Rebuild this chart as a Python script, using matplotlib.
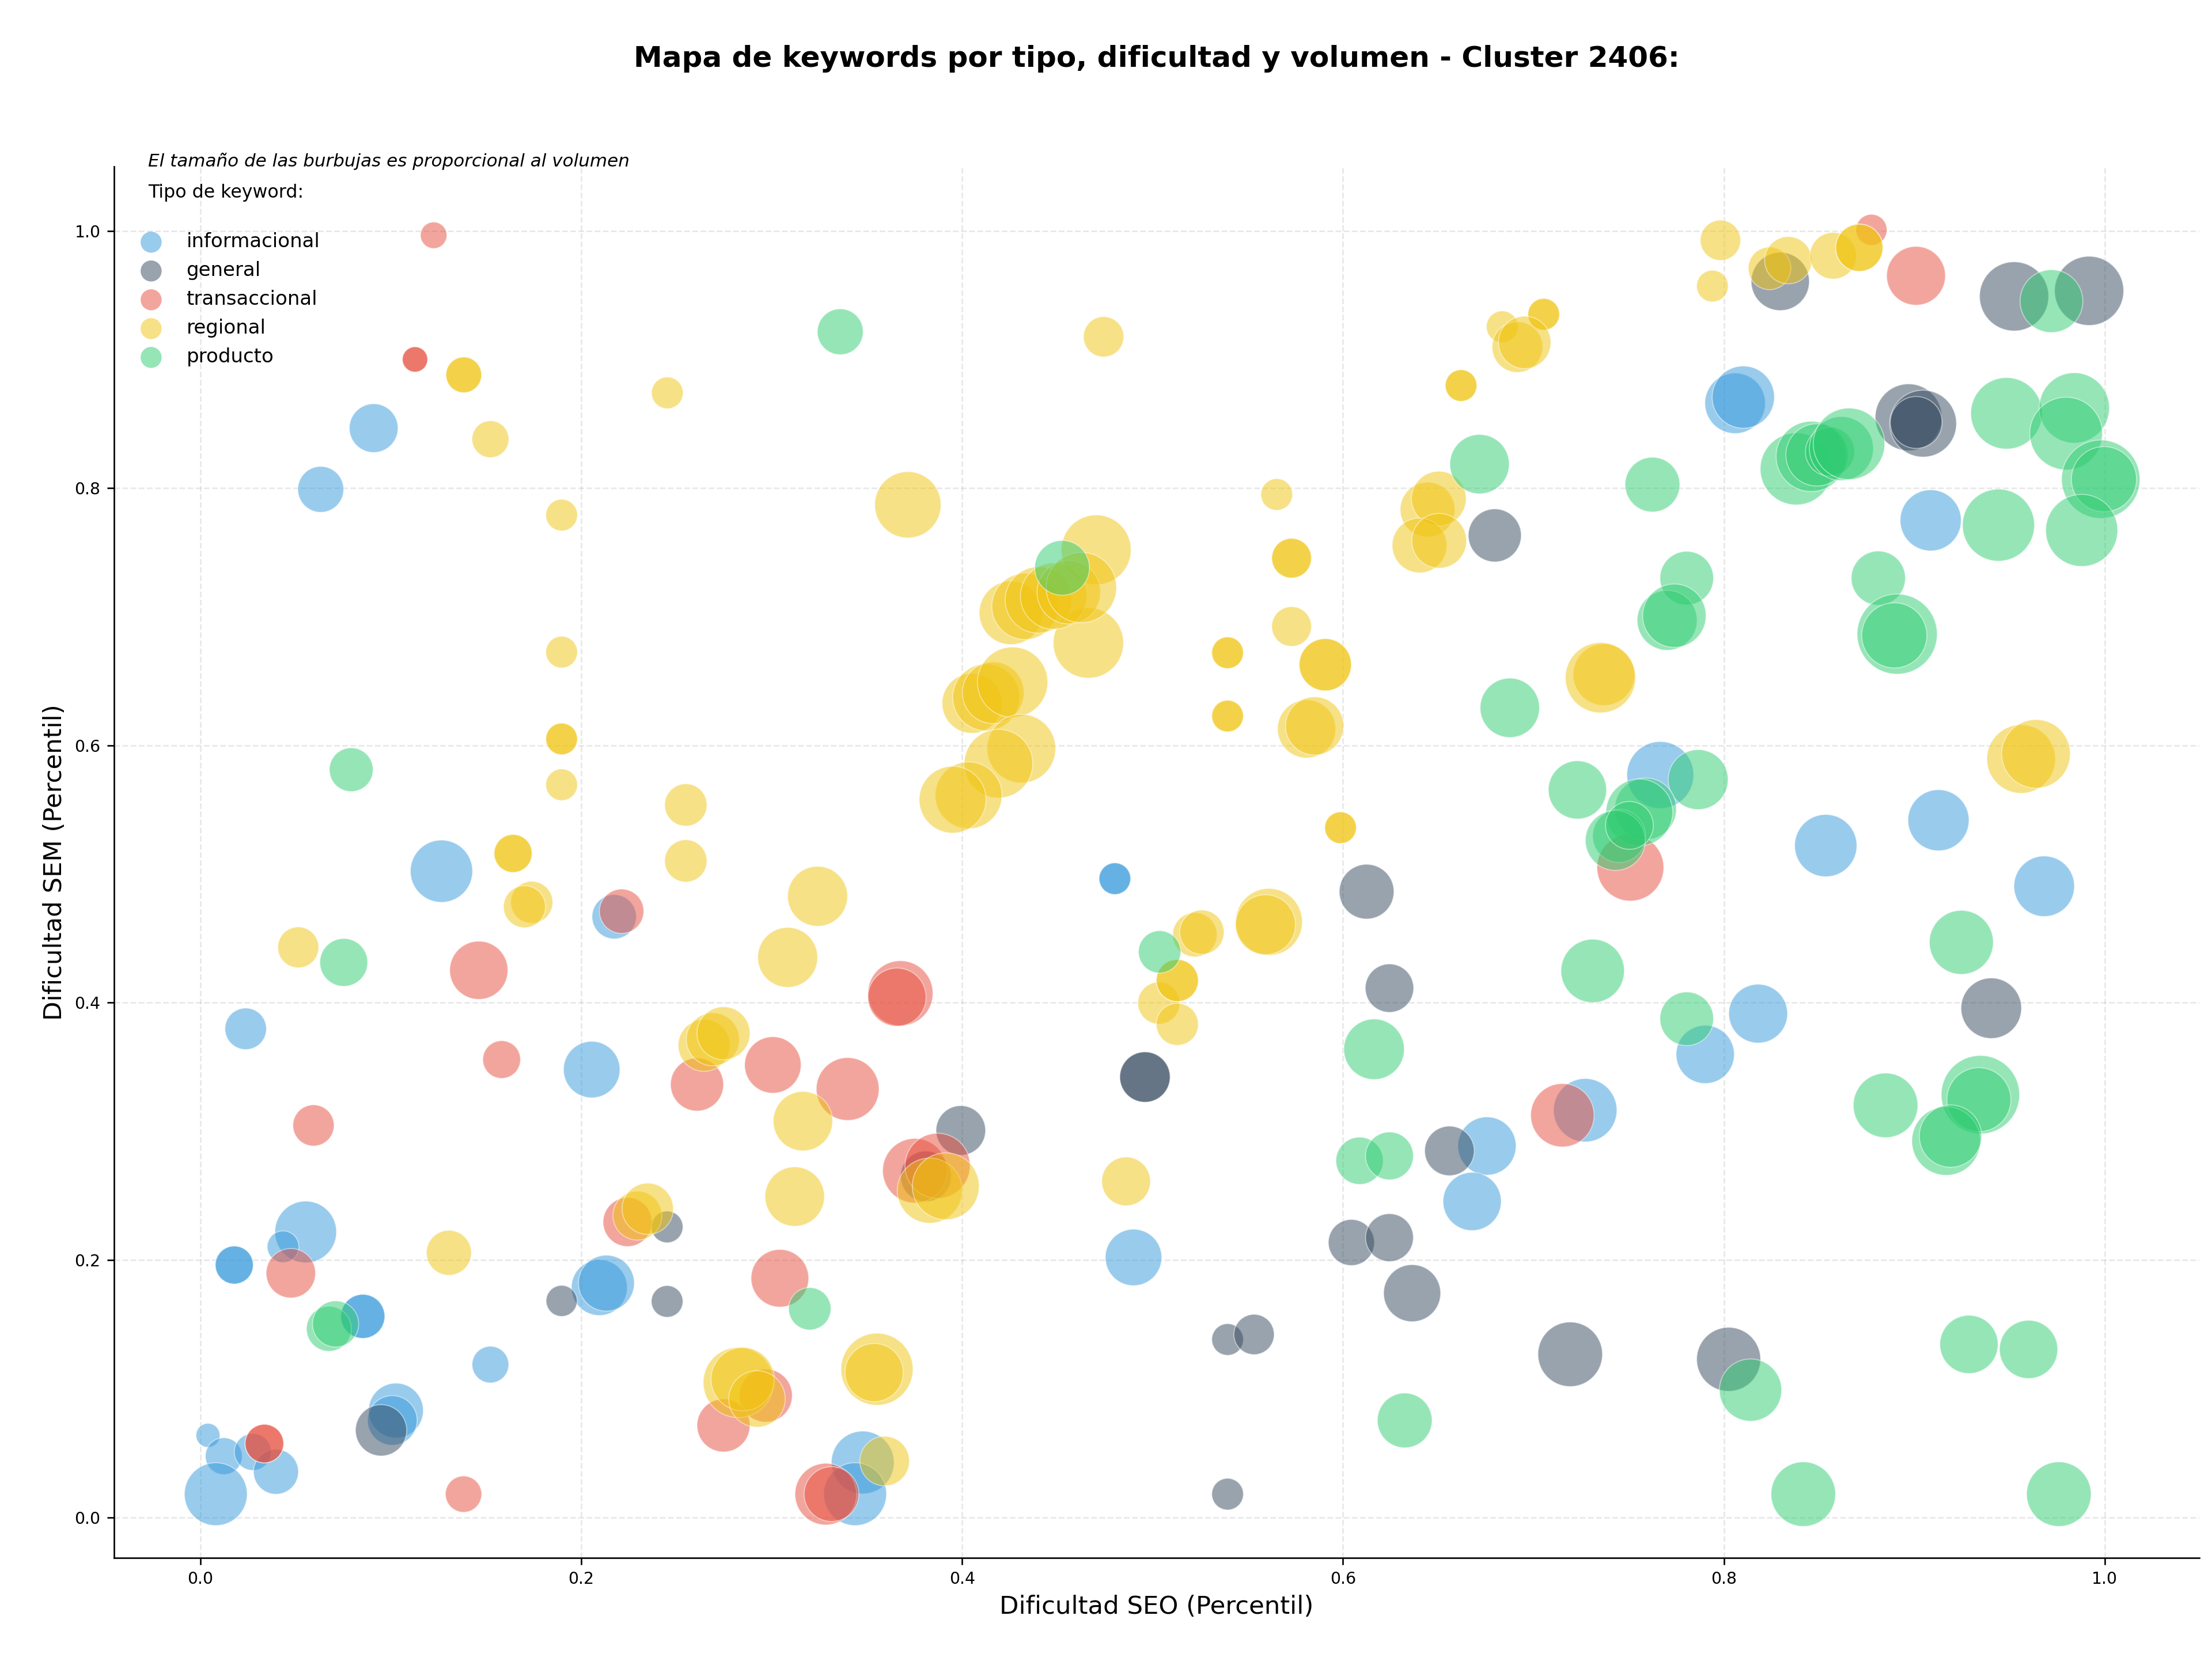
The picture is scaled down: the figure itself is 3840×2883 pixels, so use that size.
import matplotlib.pyplot as plt

# Datos por tipo de keyword: dificultad SEO (x), dificultad SEM (y), volumen
info_x = [0.091, 0.0632, 0.8059, 0.8102, 0.1266, 0.2173, 0.0238, 0.2055, 0.0553, 0.0434,
          0.0178, 0.0178, 0.0853, 0.0853, 0.1523, 0.2095, 0.2132, 0.1027, 0.1008, 0.004,
          0.0123, 0.0275, 0.0397, 0.0081, 0.4802, 0.4802, 0.49, 0.3478, 0.3438, 0.7666,
          0.7902, 0.9086, 0.8535, 0.9127, 0.9682, 0.818, 0.7272, 0.6756, 0.6678]
info_y = [0.8466, 0.799, 0.8659, 0.8707, 0.5022, 0.4668, 0.3797, 0.348, 0.2218, 0.2103,
          0.1961, 0.1961, 0.1562, 0.1562, 0.1187, 0.1786, 0.182, 0.083, 0.0753, 0.0637,
          0.0475, 0.0508, 0.0354, 0.018, 0.4964, 0.4964, 0.202, 0.0426, 0.018, 0.577,
          0.3598, 0.7749, 0.5221, 0.5418, 0.4905, 0.3915, 0.3164, 0.2886, 0.2455]
info_vol = [643, 570, 992, 1050, 1050, 534, 467, 864, 1030, 272,
            392, 392, 527, 527, 365, 847, 847, 812, 666, 156,
            369, 369, 548, 1069, 272, 272, 864, 1069, 1069, 1211,
            918, 1011, 1050, 1011, 992, 936, 1089, 918, 918]

gen_x = [0.8296, 0.9524, 0.9918, 0.897, 0.9046, 0.901, 0.6797, 0.1897, 0.0949, 0.2451,
         0.2451, 0.3993, 0.381, 0.496, 0.496, 0.6124, 0.6244, 0.9404, 0.6559, 0.6044,
         0.6244, 0.6363, 0.5394, 0.5533, 0.7193, 0.8025, 0.5394]
gen_y = [0.9606, 0.949, 0.9533, 0.855, 0.8501, 0.851, 0.7632, 0.1682, 0.0676, 0.2257,
         0.1678, 0.3007, 0.265, 0.3422, 0.3422, 0.4863, 0.4113, 0.3957, 0.2848, 0.2136,
         0.2174, 0.1742, 0.1382, 0.1421, 0.1267, 0.1228, 0.018]
gen_vol = [918, 1296, 1296, 1211, 1211, 729, 762, 262, 713, 272,
           272, 666, 697, 689, 689, 812, 635, 992, 666, 576,
           620, 882, 272, 441, 1129, 1109, 272]

trans_x = [0.1225, 0.1127, 0.1127, 0.2212, 0.1462, 0.1582, 0.0594, 0.0475, 0.0336, 0.0336,
           0.1382, 0.2608, 0.3006, 0.3399, 0.3676, 0.3658, 0.2243, 0.3043, 0.2969, 0.2747,
           0.3284, 0.3314, 0.3752, 0.3871, 0.7509, 0.7152, 0.8775, 0.9009]
trans_y = [0.9965, 0.900, 0.900, 0.4711, 0.4252, 0.3558, 0.3046, 0.1897, 0.0573, 0.0573,
           0.018, 0.3364, 0.3516, 0.3329, 0.4073, 0.4043, 0.2295, 0.1858, 0.0946, 0.0714,
           0.018, 0.018, 0.2694, 0.2732, 0.505, 0.3125, 1.0007, 0.965]
trans_vol = [190, 174, 174, 534, 918, 386, 461, 661, 404, 404,
             357, 762, 864, 1069, 1149, 918, 650, 900, 762, 762,
             1030, 812, 1129, 1149, 1211, 1089, 262, 936]

reg_x = [0.1383, 0.1383, 0.1523, 0.1897, 0.2452, 0.4743, 0.3715, 0.4704, 0.4663, 0.4256,
         0.4330, 0.4400, 0.4480, 0.4560, 0.4626, 0.4052, 0.4126, 0.4163, 0.4265, 0.4311,
         0.4191, 0.4034, 0.395, 0.1897, 0.1897, 0.1897, 0.1897, 0.1642, 0.1642, 0.174,
         0.1702, 0.0514, 0.1305, 0.2549, 0.2549, 0.3241, 0.3084, 0.2645, 0.2691, 0.2747,
         0.3164, 0.3121, 0.2295, 0.2349, 0.2825, 0.2848, 0.2923, 0.3553, 0.3538, 0.3593,
         0.383, 0.3914, 0.4861, 0.5394, 0.5394, 0.5394, 0.5394, 0.5652, 0.573, 0.573,
         0.573, 0.5907, 0.5907, 0.5809, 0.5851, 0.5987, 0.5987, 0.5611, 0.5593, 0.5222,
         0.5259, 0.5033, 0.513, 0.513, 0.513, 0.737, 0.7352, 0.6444, 0.6503, 0.6402,
         0.6505, 0.6836, 0.7054, 0.7054, 0.6916, 0.6954, 0.662, 0.662, 0.7982, 0.794,
         0.824, 0.8338, 0.8574, 0.8711, 0.8711, 0.9561, 0.9639]
reg_y = [0.888, 0.888, 0.838, 0.779, 0.874, 0.9176, 0.787, 0.752, 0.6796, 0.703,
         0.708, 0.713, 0.716, 0.719, 0.7227, 0.6327, 0.6373, 0.6409, 0.6491, 0.5975,
         0.5858, 0.5612, 0.5578, 0.6725, 0.605, 0.605, 0.5694, 0.516, 0.516, 0.478,
         0.4746, 0.443, 0.2056, 0.5537, 0.5102, 0.4827, 0.4352, 0.3668, 0.3715, 0.3762,
         0.3079, 0.2493, 0.2345, 0.2398, 0.1048, 0.1074, 0.092, 0.1151, 0.1125, 0.0437,
         0.2539, 0.2573, 0.2611, 0.672, 0.672, 0.6228, 0.6228, 0.795, 0.7455, 0.7455,
         0.6924, 0.6627, 0.6627, 0.6128, 0.6151, 0.536, 0.536, 0.4628, 0.4606, 0.4528,
         0.4548, 0.3997, 0.4172, 0.4172, 0.3832, 0.655, 0.6526, 0.7833, 0.7918, 0.7554,
         0.759, 0.9254, 0.9351, 0.9351, 0.9096, 0.9132, 0.8797, 0.8797, 0.9926, 0.957,
         0.9708, 0.9771, 0.9806, 0.9868, 0.9868, 0.5894, 0.5934]
reg_vol = [346, 346, 369, 272, 272, 441, 1190, 1318, 1340, 1089,
           1190, 1190, 1190, 1089, 1340, 973, 1211, 1030, 1340, 1275,
           1275, 1211, 1211, 272, 272, 272, 272, 392, 392, 480,
           480, 454, 548, 486, 486, 973, 973, 729, 762, 762,
           955, 955, 650, 713, 1340, 1089, 864, 1406, 918, 666,
           1149, 1211, 643, 272, 272, 272, 272, 272, 428, 428,
           428, 739, 739, 918, 918, 272, 272, 1211, 973, 534,
           534, 480, 480, 480, 480, 1030, 1340, 812, 812, 812,
           812, 272, 272, 272, 697, 745, 272, 272, 441, 272,
           493, 605, 590, 605, 605, 1275, 1275]

prod_x = [0.336, 0.4525, 0.0792, 0.0753, 0.0675, 0.071, 0.32, 0.5037, 0.6163, 0.6876,
          0.7231, 0.7865, 0.7589, 0.7556, 0.745, 0.743, 0.7311, 0.7805, 0.7805, 0.7702,
          0.774, 0.6717, 0.7625, 0.972, 0.838, 0.8459, 0.8489, 0.8557, 0.8617, 0.8657,
          0.9484, 0.984, 0.9797, 0.9979, 0.9996, 0.9442, 0.9879, 0.8811, 0.891, 0.8895,
          0.9247, 0.8849, 0.9347, 0.9339, 0.9167, 0.919, 0.9287, 0.96, 0.814, 0.8417,
          0.9759, 0.6087, 0.6244, 0.6324, 0.7504]
prod_y = [0.9215, 0.738, 0.5811, 0.4313, 0.1465, 0.1503, 0.1621, 0.4395, 0.3638, 0.6292,
          0.5654, 0.5734, 0.5507, 0.5479, 0.5296, 0.5261, 0.4247, 0.3875, 0.73, 0.6972,
          0.7008, 0.8186, 0.8027, 0.9453, 0.8149, 0.8246, 0.8258, 0.8283, 0.8307, 0.8344,
          0.8581, 0.8623, 0.8424, 0.8069, 0.8069, 0.7712, 0.7671, 0.73, 0.6865, 0.6855,
          0.4469, 0.3202, 0.3285, 0.3246, 0.2925, 0.2963, 0.1344, 0.1305, 0.0989, 0.018,
          0.018, 0.2771, 0.2809, 0.0753, 0.5378]
prod_vol = [570, 812, 520, 620, 548, 576, 486, 486, 992, 955,
            918, 973, 1030, 1211, 762, 973, 1089, 778, 778, 973,
            1089, 955, 812, 1069, 1406, 1340, 1050, 650, 1109, 1384,
            1384, 1340, 1429, 1665, 1149, 1406, 1406, 795, 1739, 1149,
            1109, 1129, 1665, 1109, 1275, 1050, 918, 918, 1050, 1129,
            1129, 605, 620, 812, 620]

tipos = ['informacional', 'general', 'transaccional', 'regional', 'producto']
colores = ['#3498db', '#34495e', '#e74c3c', '#f1c40f', '#2ecc71']
series = [(info_x, info_y, info_vol), (gen_x, gen_y, gen_vol), (trans_x, trans_y, trans_vol),
          (reg_x, reg_y, reg_vol), (prod_x, prod_y, prod_vol)]

fig, ax = plt.subplots(figsize=(16, 12.0125), dpi=240)
fig.subplots_adjust(left=0.0515, right=0.9943, bottom=0.0622, top=0.8998)

for tipo, color, (xs, ys, vol) in zip(tipos, colores, series):
    ax.scatter(xs, ys, s=vol, c=color, alpha=0.5, edgecolors='white', linewidths=0.5)

# proxies de tamaño fijo para la leyenda
handles = [ax.scatter([], [], s=120, c=color, alpha=0.5, edgecolors='none', label=tipo)
           for tipo, color in zip(tipos, colores)]

ax.set_xlim(-0.0454, 1.0497)
ax.set_ylim(-0.0314, 1.050)
ax.set_xticks([0.0, 0.2, 0.4, 0.6, 0.8, 1.0])
ax.set_yticks([0.0, 0.2, 0.4, 0.6, 0.8, 1.0])
ax.tick_params(labelsize=8.5)
ax.grid(True, linestyle='--', alpha=0.3)
ax.set_axisbelow(True)
ax.spines['top'].set_visible(False)
ax.spines['right'].set_visible(False)

ax.set_xlabel('Dificultad SEO (Percentil)', fontsize=13)
ax.set_ylabel('Dificultad SEM (Percentil)', fontsize=13)
ax.set_title('Mapa de keywords por tipo, dificultad y volumen - Cluster 2406:',
             fontsize=15, fontweight='bold', pad=52)

ax.legend(handles=handles, loc='upper left', frameon=False, fontsize=10.2,
          title='Tipo de keyword:\n', title_fontsize=9.5)
ax.text(0.0163, 1.0037, 'El tamaño de las burbujas es proporcional al volumen',
        transform=ax.transAxes, fontsize=9.3, style='italic', va='center', ha='left')

fig.savefig('out.png', dpi=240)
